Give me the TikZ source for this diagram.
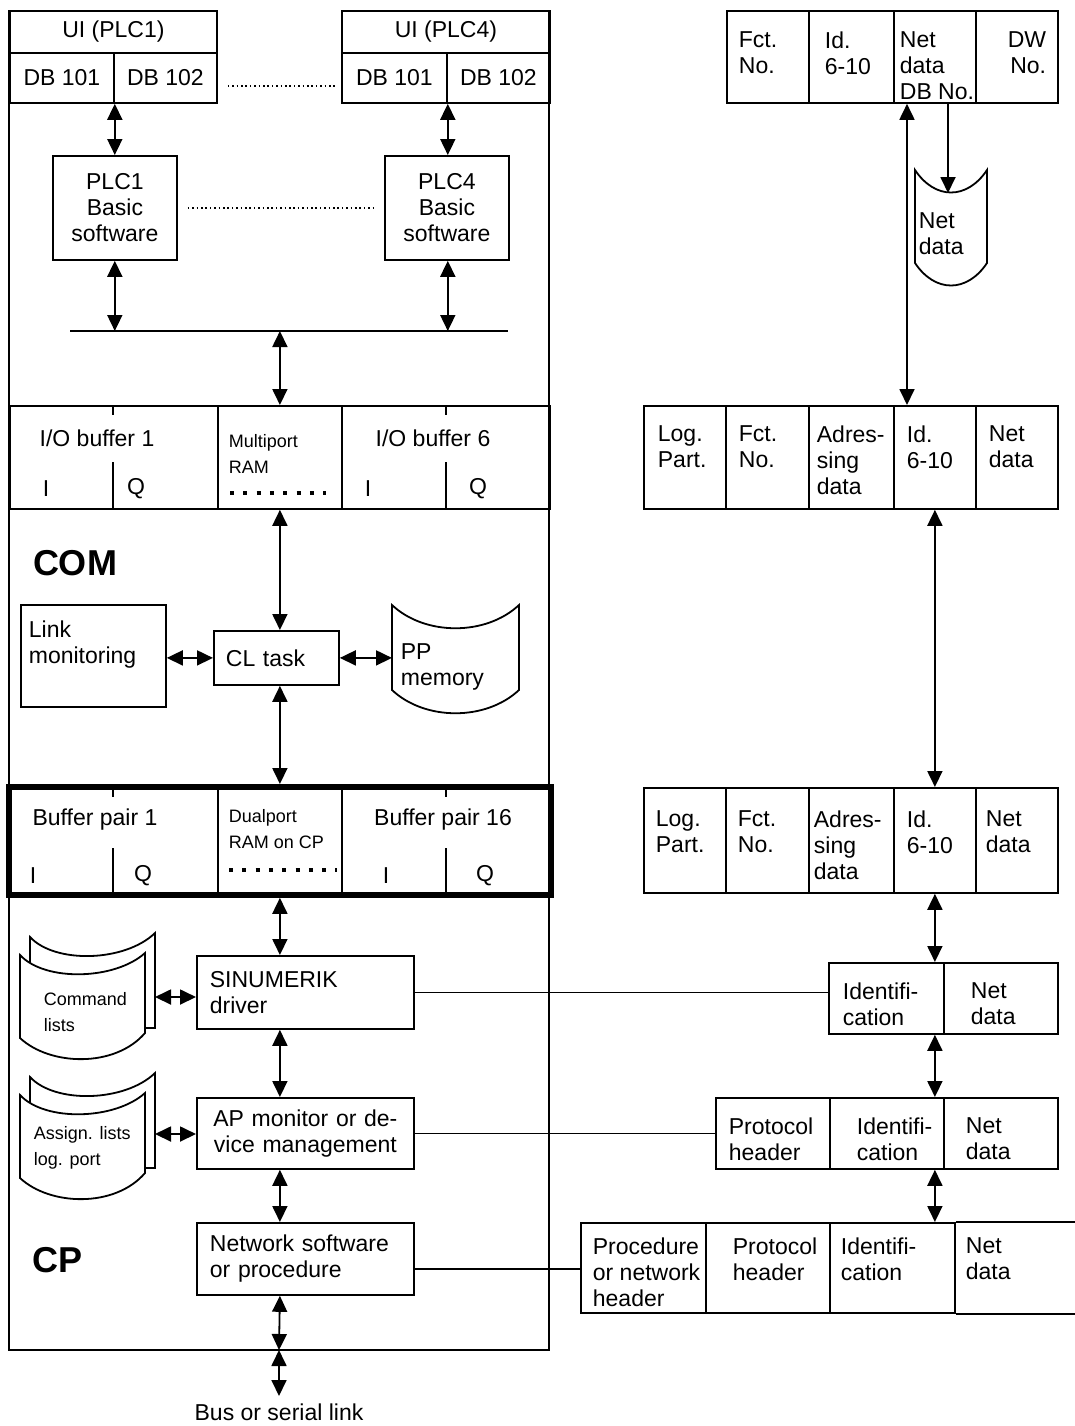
\documentclass[tikz,border=0pt]{standalone}
\usepackage{fontspec}
\setmainfont{Liberation Sans}
\usetikzlibrary{positioning, arrows.meta}

\begin{document}
\begin{tikzpicture}[x=0.5pt, y=-0.5pt, line width=0.9pt,
    font=\fontsize{11.5}{13}\selectfont,
    box/.style={draw, anchor=north west, inner sep=0pt, align=center},
    wh/.style 2 args={minimum width=#1*0.5pt, minimum height=#2*0.5pt},
    lbox/.style={box, align=left, inner xsep=6.5pt},
    lbl/.style={anchor=north west, inner sep=0pt, align=left},
    sml/.style={lbl, font=\fontsize{9}{13}\selectfont},
    big/.style={inner sep=0pt, font=\fontsize{18}{20}\selectfont\bfseries},
    arr/.style={{Triangle[length=8pt,width=7.5pt]}-{Triangle[length=8pt,width=7.5pt]}},
    sarr/.style={-{Triangle[length=8pt,width=7.5pt]}},
    dotline/.style={line width=0.8pt, dash pattern=on 0.8pt off 1.4pt},
    bigdots/.style={line width=2pt, dash pattern=on 2pt off 4.65pt}
  ]
    \useasboundingbox (0,0) rectangle (1075,1426);

    % controller frame
    \draw (9,10) -- (9,1350) -- (549,1350) -- (549,10);

    % user interfaces and PLCs
    \node[box, wh={207}{42}] (ui1) at (9,10) {UI (PLC1)};
    \node[box, wh={104}{50}] (db11) at (9,52) {DB 101};
    \node[box, wh={103}{50}] (db12) at (113,52) {DB 102};
    \node[box, wh={208}{42}] (ui4) at (341,10) {UI (PLC4)};
    \node[box, wh={105}{50}] (db41) at (341,52) {DB 101};
    \node[box, wh={103}{50}] (db42) at (446,52) {DB 102};
    \draw[dotline, shorten <=5pt, shorten >=3pt] ([yshift=-4pt]db12.east) -- ([yshift=-4pt]db41.west);

    \node[box, wh={124}{104}] (plc1) at (52,155) {PLC1\\Basic\\software};
    \node[box, wh={124}{104}] (plc4) at (384,155) {PLC4\\Basic\\software};
    \draw[dotline, shorten <=5pt, shorten >=4.5pt] (plc1) -- (plc4);

    \coordinate (busw) at (70,331);
    \coordinate (buse) at (508,331);
    \draw (busw) -- (buse);
    \draw[arr] (db11.south east) -- (db11.south east |- plc1.north);
    \draw[arr] (db41.south east) -- (db41.south east |- plc4.north);
    \draw[arr] (plc1.south -| db11.south east) -- (db11.south east |- busw);
    \draw[arr] (plc4.south -| db41.south east) -- (db41.south east |- busw);

    % multiport RAM
    \node[box, wh={208}{103}] (io1) at (9,405) {};
    \node[box, wh={124}{103}] (mp) at (217,405) {};
    \node[box, wh={208}{103}] (io6) at (341,405) {};
    \draw (113,405) -- (113,415) (113,462) -- (113,508) (446,405) -- (446,415) (446,462) -- (446,508);
    \node (io1t) at (97,438) {I/O buffer 1};
    \node (io1i) at (46,489) {I};
    \node (io1q) at (136,489) {Q};
    \node[sml] (mpt) at (228,433.5) {Multiport\\RAM};
    \draw[bigdots] (230,493) -- (326,493);
    \node (io6t) at (433,438) {I/O buffer 6};
    \node (io6i) at (368,489) {I};
    \node (io6q) at (478,489) {Q};
    \draw[arr] (mp.north |- busw) -- (mp.north);

    \node[big] (com) at (75,563) {COM};

    % CL task
    \node[box, wh={145}{102}] (link) at (20,604) {};
    \node[lbl] (linkt) at (28,620) {Link\\monitoring};
    \node[lbox, wh={125}{54}, text width=50.5pt, inner xsep=6pt] (cl) at (213,630) {CL task};
    \draw (392,605) .. controls (425,636) and (486,636) .. (519,605) -- (519,690)
      .. controls (486,721) and (425,721) .. (392,690) -- cycle;
    \node[lbl] (pp) at (400,643) {PP\\memory};
    \coordinate (ppw) at (392,657);
    \draw[arr] (mp.south) -- (mp.south |- cl.north);
    \draw[arr] (link.east |- cl.west) -- (cl.west);
    \draw[arr] (cl.east) -- (cl.east -| ppw);

    % dualport RAM
    \node[box, wh={208}{106}] (bp1) at (9,787) {};
    \node[box, wh={124}{106}] (dp) at (217,787) {};
    \node[box, wh={208}{106}] (bp16) at (341,787) {};
    \draw (113,787) -- (113,797) (113,848) -- (113,893) (446,787) -- (446,797) (446,848) -- (446,893);
    \draw[line width=3pt] (bp1.north west) rectangle (bp16.south east);
    \node (bp1t) at (95,820) {Buffer pair 1};
    \node[sml] (dpt) at (228,808.5) {Dualport\\RAM on CP};
    \draw[bigdots] (229,870) -- (337,870);
    \node (bp16t) at (443,820) {Buffer pair 16};
    \node (bp1i) at (33,876) {I};
    \node (bp1q) at (143,876) {Q};
    \node (bp16i) at (386,876) {I};
    \node (bp16q) at (485,876) {Q};
    \draw[arr] (cl.south -| dp.north) -- ([yshift=1.5pt]dp.north);

    % CP software
    \node[lbox, wh={217}{73}, text width=95.5pt] (sin) at (196,955) {SINUMERIK\\driver};
    \node[box, wh={217}{71}, text width=95.5pt] (ap) at (196,1097) {AP monitor or de-\\vice management};
    \node[lbox, wh={217}{72}, text width=95.5pt] (net) at (196,1222) {Network software\\or procedure};
    \coordinate (bot) at (279,1350);
    \node[below=23pt of bot] (bus) {Bus or serial link};
    \draw[arr] ([yshift=-1.5pt]dp.south) -- (dp.south |- sin.north);
    \draw[arr] (dp.south |- sin.south) -- (dp.south |- ap.north);
    \draw[arr] (dp.south |- ap.south) -- (dp.south |- net.north);
    \draw[arr] (dp.south |- net.south) -- (bot);
    \draw[arr] (bot) -- (bus.north);

    \node[big] (cp) at (58,1260) {CP};

    % command lists
    \draw[fill=white] (30,937) .. controls (55,964) and (125,962) .. (155,933) -- (155,1028) -- (30,1028) -- cycle;
    \draw[fill=white] (20,955) .. controls (45,982) and (115,980) .. (145,953) -- (145,1033)
      .. controls (115,1068) and (50,1066) .. (20,1038) -- cycle;
    \node[sml] (cmdt) at (43,991.5) {Command\\lists};
    \coordinate (cmdr) at (155,997);
    \draw[arr] (cmdr) -- (cmdr -| sin.west);

    % assignment lists
    \draw[fill=white] (30,1077) .. controls (55,1104) and (125,1102) .. (155,1073) -- (155,1168) -- (30,1168) -- cycle;
    \draw[fill=white] (20,1095) .. controls (45,1122) and (115,1120) .. (145,1093) -- (145,1173)
      .. controls (115,1208) and (50,1206) .. (20,1178) -- cycle;
    \node[sml] (asgt) at (33,1125.5) {Assign. lists\\log. port};
    \coordinate (asgr) at (155,1134);
    \draw[arr] (asgr) -- (asgr -| ap.west);

    % telegram in the PLC
    \node[box, wh={82}{92}] (t1a) at (726,10) {};
    \node[box, wh={85}{92}] (t1b) at (808,10) {};
    \node[box, wh={82}{92}] (t1c) at (893,10) {};
    \node[box, wh={82}{92}] (t1d) at (975,10) {};
    \node[lbl] (t1at) at (738,31) {Fct.\\No.};
    \node[lbl] (t1bt) at (824,31) {Id.\\6-10};
    \node[lbl] (t1ct) at (899,31) {Net\\data\\DB No.};
    \node[lbl, anchor=north east, align=right] (t1dt) at (1047,31) {DW\\No.};

    \draw (915,170) .. controls (935,200) and (967,200) .. (987,170) -- (987,263)
      .. controls (967,293) and (935,293) .. (915,263) -- cycle;
    \node[lbl] (ndt) at (918,212) {Net\\data};
    \coordinate (ndtop) at (948,193);
    \coordinate (upx) at (907,0);
    \draw[sarr] (t1c.south -| ndtop) -- (ndtop);

    % telegram in multiport RAM
    \node[box, wh={82}{103}] (t2a) at (643,405) {};
    \node[box, wh={83}{103}] (t2b) at (725,405) {};
    \node[box, wh={85}{103}] (t2c) at (808,405) {};
    \node[box, wh={82}{103}] (t2d) at (893,405) {};
    \node[box, wh={82}{103}] (t2e) at (975,405) {};
    \node[lbl] (t2at) at (657,425) {Log.\\Part.};
    \node[lbl] (t2bt) at (738,425) {Fct.\\No.};
    \node[lbl] (t2ct) at (816,425) {Adres-\\sing\\data};
    \node[lbl] (t2dt) at (906,425) {Id.\\6-10};
    \node[lbl] (t2et) at (988,425) {Net\\data};
    \draw[arr] (t1c.south -| upx) -- (t2d.north -| upx);

    % telegram in dualport RAM
    \node[box, wh={82}{105}] (t3a) at (643,787) {};
    \node[box, wh={83}{105}] (t3b) at (725,787) {};
    \node[box, wh={85}{105}] (t3c) at (808,787) {};
    \node[box, wh={82}{105}] (t3d) at (893,787) {};
    \node[box, wh={82}{105}] (t3e) at (975,787) {};
    \node[lbl] (t3at) at (655,810) {Log.\\Part.};
    \node[lbl] (t3bt) at (737,810) {Fct.\\No.};
    \node[lbl] (t3ct) at (813,810) {Adres-\\sing\\data};
    \node[lbl] (t3dt) at (906,810) {Id.\\6-10};
    \node[lbl] (t3et) at (985,810) {Net\\data};
    \draw[arr] (t2d.south) -- (t3d.north);

    % telegrams on the CP
    \node[box, wh={115}{71}] (t4a) at (828,962) {};
    \node[box, wh={114}{71}] (t4b) at (943,962) {};
    \node[lbl] (t4at) at (842,982) {Identifi-\\cation};
    \node[lbl] (t4bt) at (970,982) {Net\\data};

    \node[box, wh={114}{71}] (t5a) at (715,1097) {};
    \node[box, wh={114}{71}] (t5b) at (829,1097) {};
    \node[box, wh={114}{71}] (t5c) at (943,1097) {};
    \node[lbl] (t5at) at (728,1117) {Protocol\\header};
    \node[lbl] (t5bt) at (856,1117) {Identifi-\\cation};
    \node[lbl] (t5ct) at (965,1117) {Net\\data};

    \node[box, wh={125}{90}] (t6a) at (580,1222) {};
    \node[box, wh={124}{90}] (t6b) at (705,1222) {};
    \node[box, wh={125}{90}] (t6c) at (829,1222) {};
    \draw (t6c.north east) -- ++(121,0) (t6c.south east) -- ++(121,0);
    \node[lbl] (t6at) at (592,1237) {Procedure\\or network\\header};
    \node[lbl] (t6bt) at (732,1237) {Protocol\\header};
    \node[lbl] (t6ct) at (840,1237) {Identifi-\\cation};
    \node[lbl] (t6dt) at (965,1237) {Net\\data};

    \draw[arr] (t3d.south) -- (t3d.south |- t4a.north);
    \draw[arr] (t3d.south |- t4a.south) -- (t3d.south |- t5b.north);
    \draw[arr] (t3d.south |- t5b.south) -- (t3d.south |- t6c.north);

    \draw (sin.east) -- (sin.east -| t4a.west);
    \draw (ap.east) -- (ap.east -| t5a.west);
    \draw ([yshift=-5pt]net.east) -- ([yshift=-5pt]net.east -| t6a.west);
  \end{tikzpicture}
\end{document}
